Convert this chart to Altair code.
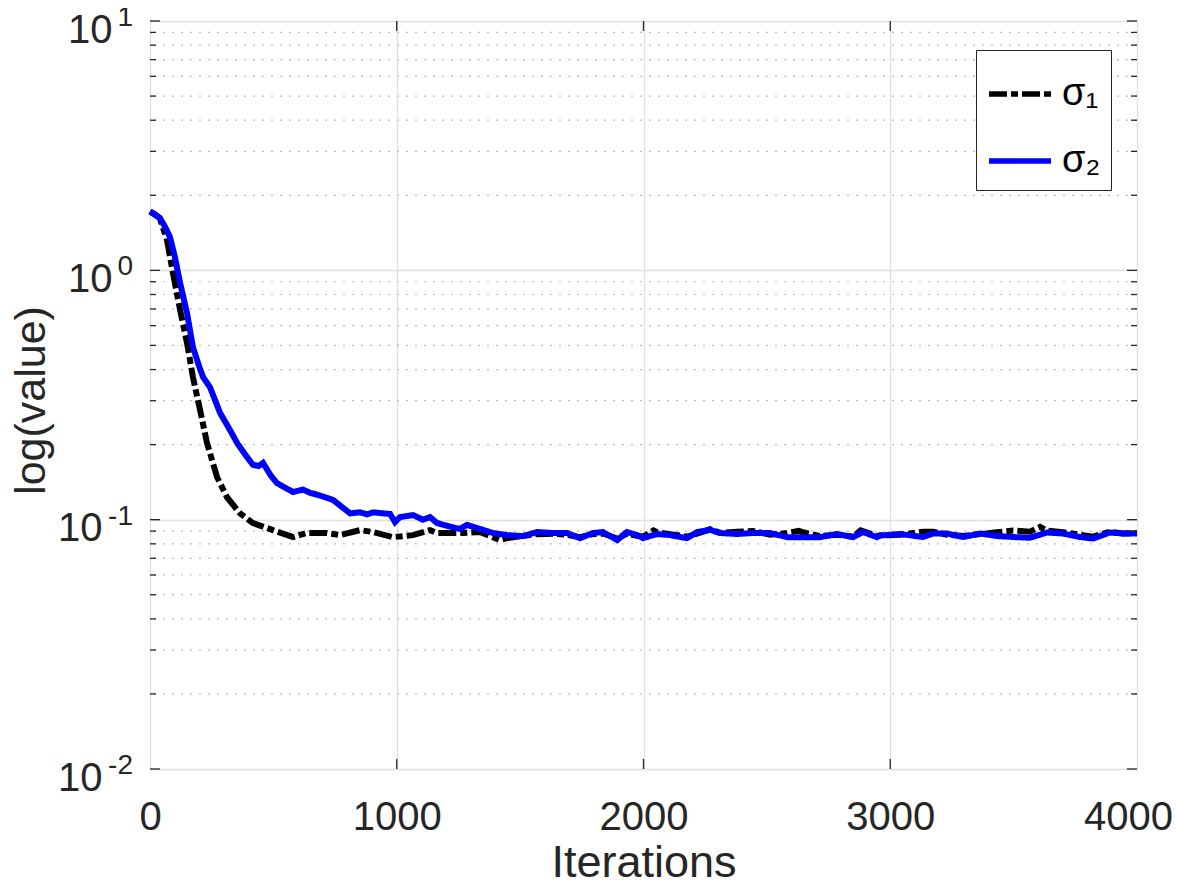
import altair as alt
import pandas as pd

# ---------------- data ----------------
series_names = ["σ₁", "σ₂"]

iters_s1 = [0, 40, 69, 93, 122, 150, 174, 203, 231, 272, 312, 365, 417, 498, 580, 636, 717,
            770, 851, 904, 985, 1066, 1135, 1163, 1268, 1337, 1418, 1447, 1512, 1568, 1633,
            1690, 1743, 1795, 1836, 1893, 1933, 1974, 1998, 2040, 2055, 2107, 2176, 2217,
            2270, 2310, 2379, 2444, 2513, 2582, 2630, 2646, 2715, 2784, 2849, 2880, 2946,
            2958, 3040, 3133, 3173, 3230, 3295, 3364, 3432, 3498, 3566, 3607, 3635, 3700,
            3769, 3822, 3890, 3943, 4000]
vals_s1 = [1.72, 1.62, 1.32, 0.975, 0.693, 0.511, 0.373, 0.275, 0.203, 0.148, 0.123, 0.106,
           0.0969, 0.0908, 0.0851, 0.0884, 0.0884, 0.0867, 0.0908, 0.0892, 0.0851, 0.0867,
           0.0908, 0.0884, 0.0884, 0.0892, 0.0828, 0.0843, 0.086, 0.0875, 0.0878, 0.087,
           0.085, 0.0875, 0.088, 0.084, 0.088, 0.0862, 0.0855, 0.0905, 0.089, 0.0875, 0.0855,
           0.088, 0.0915, 0.0885, 0.0895, 0.090, 0.087, 0.0885, 0.0902, 0.089, 0.086, 0.087,
           0.0855, 0.0905, 0.086, 0.0865, 0.087, 0.0895, 0.0895, 0.087, 0.086, 0.0875, 0.089,
           0.0905, 0.0895, 0.0935, 0.0905, 0.089, 0.087, 0.0855, 0.0895, 0.088, 0.0885]

iters_s2 = [0, 20, 40, 60, 81, 101, 122, 150, 174, 200, 215, 243, 284, 324, 353, 390, 417,
            440, 458, 490, 515, 550, 580, 620, 650, 677, 710, 742, 780, 811, 851, 880, 904,
            932, 973, 993, 1013, 1066, 1106, 1135, 1163, 1204, 1256, 1285, 1337, 1390, 1447,
            1512, 1568, 1633, 1690, 1743, 1795, 1836, 1893, 1933, 1974, 1998, 2055, 2107,
            2176, 2217, 2270, 2310, 2379, 2444, 2513, 2582, 2646, 2715, 2784, 2849, 2890,
            2946, 2958, 3040, 3133, 3173, 3230, 3295, 3364, 3432, 3498, 3566, 3635, 3700,
            3769, 3822, 3890, 3943, 4000]
vals_s2 = [1.72, 1.68, 1.62, 1.50, 1.36, 1.13, 0.89, 0.674, 0.492, 0.41, 0.373, 0.340, 0.268,
           0.229, 0.203, 0.180, 0.166, 0.164, 0.169, 0.150, 0.140, 0.134, 0.129, 0.132, 0.128,
           0.126, 0.123, 0.120, 0.112, 0.106, 0.107, 0.105, 0.107, 0.1063, 0.1054, 0.0978,
           0.1024, 0.1043, 0.100, 0.1024, 0.097, 0.0944, 0.0918, 0.0953, 0.0918, 0.0884,
           0.0867, 0.0859, 0.0892, 0.0884, 0.0884, 0.0843, 0.0884, 0.0892, 0.0828, 0.0892,
           0.0867, 0.0843, 0.0876, 0.0867, 0.0843, 0.0892, 0.0910, 0.0884, 0.0876, 0.0884,
           0.0884, 0.0851, 0.0851, 0.0851, 0.0876, 0.0851, 0.0892, 0.0851, 0.0864, 0.0876,
           0.0852, 0.088, 0.088, 0.0852, 0.088, 0.086, 0.0852, 0.0846, 0.0888, 0.088, 0.0852,
           0.084, 0.0888, 0.088, 0.088]

x_ticks = [0, 1000, 2000, 3000, 4000]
y_ticks = [0.01, 0.1, 1, 10]
y_tick_base = "10"
y_tick_exps = ["-2", "-1", "0", "1"]
y_minor = [m * 10.0 ** k for k in (-2, -1, 0) for m in range(2, 10)]

# ---------------- tables ----------------
df = pd.concat([
    pd.DataFrame({"iter": iters_s1, "value": vals_s1, "series": series_names[0]}),
    pd.DataFrame({"iter": iters_s2, "value": vals_s2, "series": series_names[1]}),
])
minor_df = pd.DataFrame({"value": y_minor})
major_df = pd.DataFrame({"value": y_ticks, "exp": y_tick_exps})
xt_df = pd.DataFrame({"iter": x_ticks[1:-1]})

FONT = "Liberation Sans"
TXT = "#262626"
W, H = 987, 748

xscale = alt.Scale(domain=[0, 4000], nice=False, zero=False)
yscale = alt.Scale(type="log", domain=[0.01, 10], nice=False)

xaxis = alt.Axis(values=x_ticks, format="d", title="Iterations", grid=True,
                 gridColor="#e0e0e0", gridWidth=1.3, ticks=False, tickSize=0, domain=False,
                 labelFont=FONT, labelFontSize=40, labelColor=TXT, labelPadding=28,
                 labelOffset={"condition": {"test": f"datum.value >= {x_ticks[-1]}",
                                            "value": -9}, "value": 0},
                 labelFlush=False, labelOverlap=False, titleFont=FONT, titleFontSize=45,
                 titleColor=TXT, titleFontWeight="normal", titleBaseline="alphabetic",
                 titleY=107)
yaxis = alt.Axis(values=y_ticks, title="log(value)", grid=True, gridColor="#e0e0e0",
                 gridWidth=1.3, ticks=False, tickSize=0, domain=False, labelFont=FONT,
                 labelFontSize=40, labelColor=TXT,
                 labelPadding={"condition": {"test": "datum.value < 0.5", "value": 48},
                               "value": 38},
                 labelExpr=f"'{y_tick_base}'",
                 labelBaseline="middle", labelOffset=9, labelFlush=False, labelOverlap=False,
                 titleFont=FONT, titleFontSize=43, titleColor=TXT, titleFontWeight="normal",
                 titleAngle=270, titleBaseline="bottom", titleAlign="center",
                 titleX=-97, titleY=379)

X = alt.X("iter:Q", scale=xscale, axis=xaxis)
Y = alt.Y("value:Q", scale=yscale, axis=yaxis)

legend = alt.Legend(title=None, orient="none", legendX=826, legendY=29,
                    symbolType="stroke", symbolSize=3844, symbolStrokeWidth=5.5,
                    labelFont=FONT, labelFontSize=38, labelColor="#000000",
                    labelOffset=8, rowPadding=14, padding=10, strokeColor=TXT,
                    fillColor="white", cornerRadius=0)
color = alt.Color("series:N", scale=alt.Scale(domain=series_names,
                                               range=["#000000", "#0000ff"]), legend=legend)
dash = alt.StrokeDash("series:N", scale=alt.Scale(domain=series_names,
                                                   range=[[18, 4, 7, 4], [1, 0]]), legend=legend)

minor_grid = alt.Chart(minor_df).mark_rule(
    stroke="#bdbdbd", strokeDash=[2, 7], strokeWidth=1.2).encode(y=Y)

line1 = alt.Chart(df).transform_filter(alt.datum.series == series_names[0]).mark_line(
    strokeWidth=6).encode(x=X, y=Y, color=color, strokeDash=dash)
line2 = alt.Chart(df).transform_filter(alt.datum.series == series_names[1]).mark_line(
    strokeWidth=6).encode(x=X, y=Y, color=color, strokeDash=dash)

tick_style = dict(stroke=TXT, strokeWidth=1.3)
lt_major = alt.Chart(major_df).mark_rule(**tick_style).encode(
    y=Y, x=alt.value(0), x2=alt.value(10))
rt_major = alt.Chart(major_df).mark_rule(**tick_style).encode(
    y=Y, x=alt.value(W), x2=alt.value(W - 10))
lt_minor = alt.Chart(minor_df).mark_rule(**tick_style).encode(
    y=Y, x=alt.value(0), x2=alt.value(6))
rt_minor = alt.Chart(minor_df).mark_rule(**tick_style).encode(
    y=Y, x=alt.value(W), x2=alt.value(W - 6))
bt = alt.Chart(xt_df).mark_rule(**tick_style).encode(
    x=X, y=alt.value(H), y2=alt.value(H - 10))
tp = alt.Chart(xt_df).mark_rule(**tick_style).encode(
    x=X, y=alt.value(0), y2=alt.value(10))

exps = alt.Chart(major_df).mark_text(
    align="right", baseline="middle", font=FONT, fontSize=28, color=TXT, dy=-3
).encode(y=Y, x=alt.value(-17), text="exp:N")

chart = alt.layer(
    minor_grid, line1, line2, lt_major, rt_major, lt_minor, rt_minor, bt, tp, exps
).properties(
    width=W, height=H,
    padding={"left": 142, "top": 13, "right": 36, "bottom": 118},
    autosize=alt.AutoSizeParams(type="none"),
).configure_view(
    stroke=TXT, strokeWidth=1.3
).configure(background="white")

chart.save("out.html", embed_options={"renderer": "svg", "actions": False})
